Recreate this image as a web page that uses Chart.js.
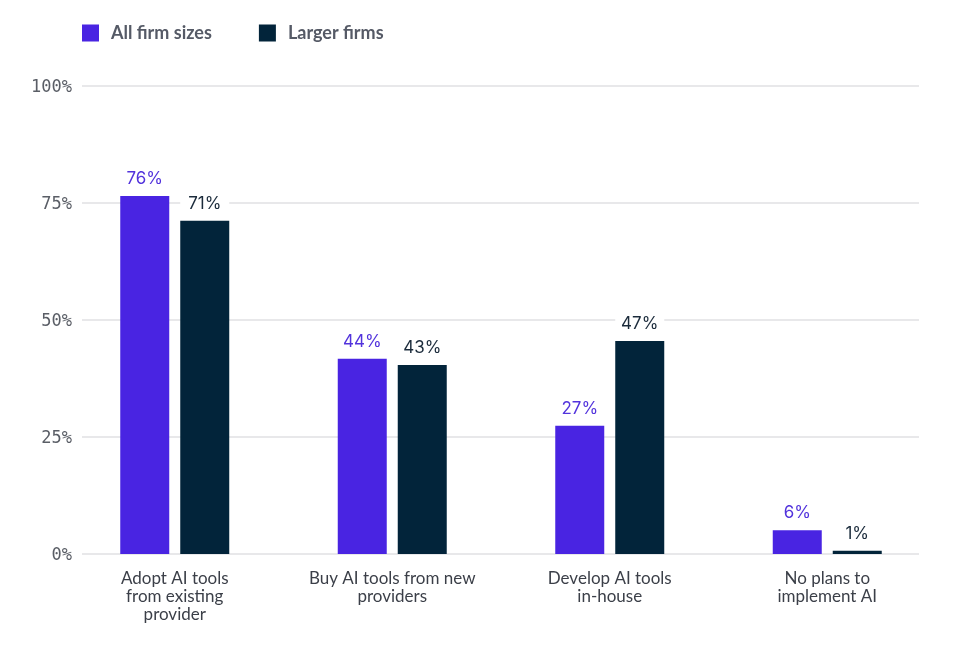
<!DOCTYPE html>
<html>
<head>
<meta charset="utf-8">
<script src="https://cdn.jsdelivr.net/npm/chart.js@4.4.1/dist/chart.umd.min.js"></script>
<style>
  html, body { margin: 0; padding: 0; background: #ffffff; }
  #wrap { width: 957px; height: 646px; position: relative; }
</style>
</head>
<body>
<div id="wrap"><canvas id="c" width="957" height="646"></canvas></div>
<script>
// ---- data ----
const categories = [
  ['Adopt AI tools', 'from existing', 'provider'],
  ['Buy AI tools from new', 'providers'],
  ['Develop AI tools', 'in-house'],
  ['No plans to', 'implement AI']
];
const seriesNames = ['All firm sizes', 'Larger firms'];
const allFirmValues = [76.5, 41.7, 27.4, 5.1];
const largerFirmValues = [71.2, 40.4, 45.5, 0.7];
const allFirmLabels = ['76%', '44%', '27%', '6%'];
const largerFirmLabels = ['71%', '43%', '47%', '1%'];
const yTicks = [0, 25, 50, 75, 100];

// ---- styles ----
const barColors = ['#4924e2', '#02243a'];
const labelColors = ['#5233dc', '#1b2b3b'];
const valueLabels = [allFirmLabels, largerFirmLabels];

const gridPlugin = {
  id: 'customGrid',
  beforeDatasetsDraw(chart) {
    const ctx = chart.ctx;
    const y = chart.scales.y;
    ctx.save();
    ctx.strokeStyle = '#e1e1e3';
    ctx.lineWidth = 1.6;
    yTicks.forEach(v => {
      const py = Math.round(y.getPixelForValue(v));
      ctx.beginPath();
      ctx.moveTo(82, py);
      ctx.lineTo(919, py);
      ctx.stroke();
    });
    ctx.restore();
  }
};

const labelPlugin = {
  id: 'valueLabels',
  afterDatasetsDraw(chart) {
    const ctx = chart.ctx;
    ctx.save();
    ctx.font = '17px Inter';
    ctx.textAlign = 'center';
    ctx.textBaseline = 'middle';
    chart.data.datasets.forEach((ds, di) => {
      const meta = chart.getDatasetMeta(di);
      meta.data.forEach((bar, i) => {
        const cy = bar.y - 18;
        const w = bar.width;
        ctx.fillStyle = '#ffffff';
        ctx.fillRect(bar.x - w / 2, cy - 11, w, 22);
        ctx.fillStyle = labelColors[di];
        ctx.fillText(valueLabels[di][i], bar.x, cy + 1);
      });
    });
    ctx.restore();
  }
};

const legendPlugin = {
  id: 'customLegend',
  afterDraw(chart) {
    const ctx = chart.ctx;
    ctx.save();
    ctx.font = 'bold 18px Lato';
    ctx.textBaseline = 'middle';
    let x = 82;
    chart.data.datasets.forEach((ds, di) => {
      ctx.fillStyle = ds.backgroundColor;
      ctx.fillRect(x, 24.5, 17, 17);
      ctx.fillStyle = '#555a66';
      ctx.fillText(ds.label, x + 29, 33.5);
      const tw = ctx.measureText(ds.label).width;
      x += 29 + tw + 47;
    });
    ctx.restore();
  }
};

new Chart(document.getElementById('c'), {
  type: 'bar',
  data: {
    labels: categories,
    datasets: [
      { label: seriesNames[0], data: allFirmValues, backgroundColor: barColors[0] },
      { label: seriesNames[1], data: largerFirmValues, backgroundColor: barColors[1] }
    ]
  },
  options: {
    responsive: false,
    animation: false,
    devicePixelRatio: 1,
    layout: { padding: { top: 86, right: 21, left: 0, bottom: 0 } },
    datasets: {
      bar: { categoryPercentage: 0.5517, barPercentage: 0.8167, borderWidth: 0 }
    },
    plugins: {
      legend: { display: false },
      tooltip: { enabled: false }
    },
    scales: {
      x: {
        grid: { display: false, drawTicks: false },
        border: { display: false },
        ticks: {
          font: { family: 'Lato', size: 17, lineHeight: 1.05 },
          color: '#3b3f48',
          padding: 16,
          maxRotation: 0,
          autoSkip: false
        },
        afterFit(scale) { scale.height = 92; }
      },
      y: {
        min: 0,
        max: 100,
        grid: { display: false, drawTicks: false },
        border: { display: false },
        ticks: {
          stepSize: 25,
          font: { family: 'DejaVu Sans Mono', size: 17 },
          color: '#5a5e66',
          mirror: true,
          crossAlign: 'far',
          padding: -35,
          labelOffset: 2,
          callback: v => v + '%'
        },
        afterFit(scale) { scale.width = 66; }
      }
    }
  },
  plugins: [gridPlugin, labelPlugin, legendPlugin]
});
</script>
</body>
</html>
